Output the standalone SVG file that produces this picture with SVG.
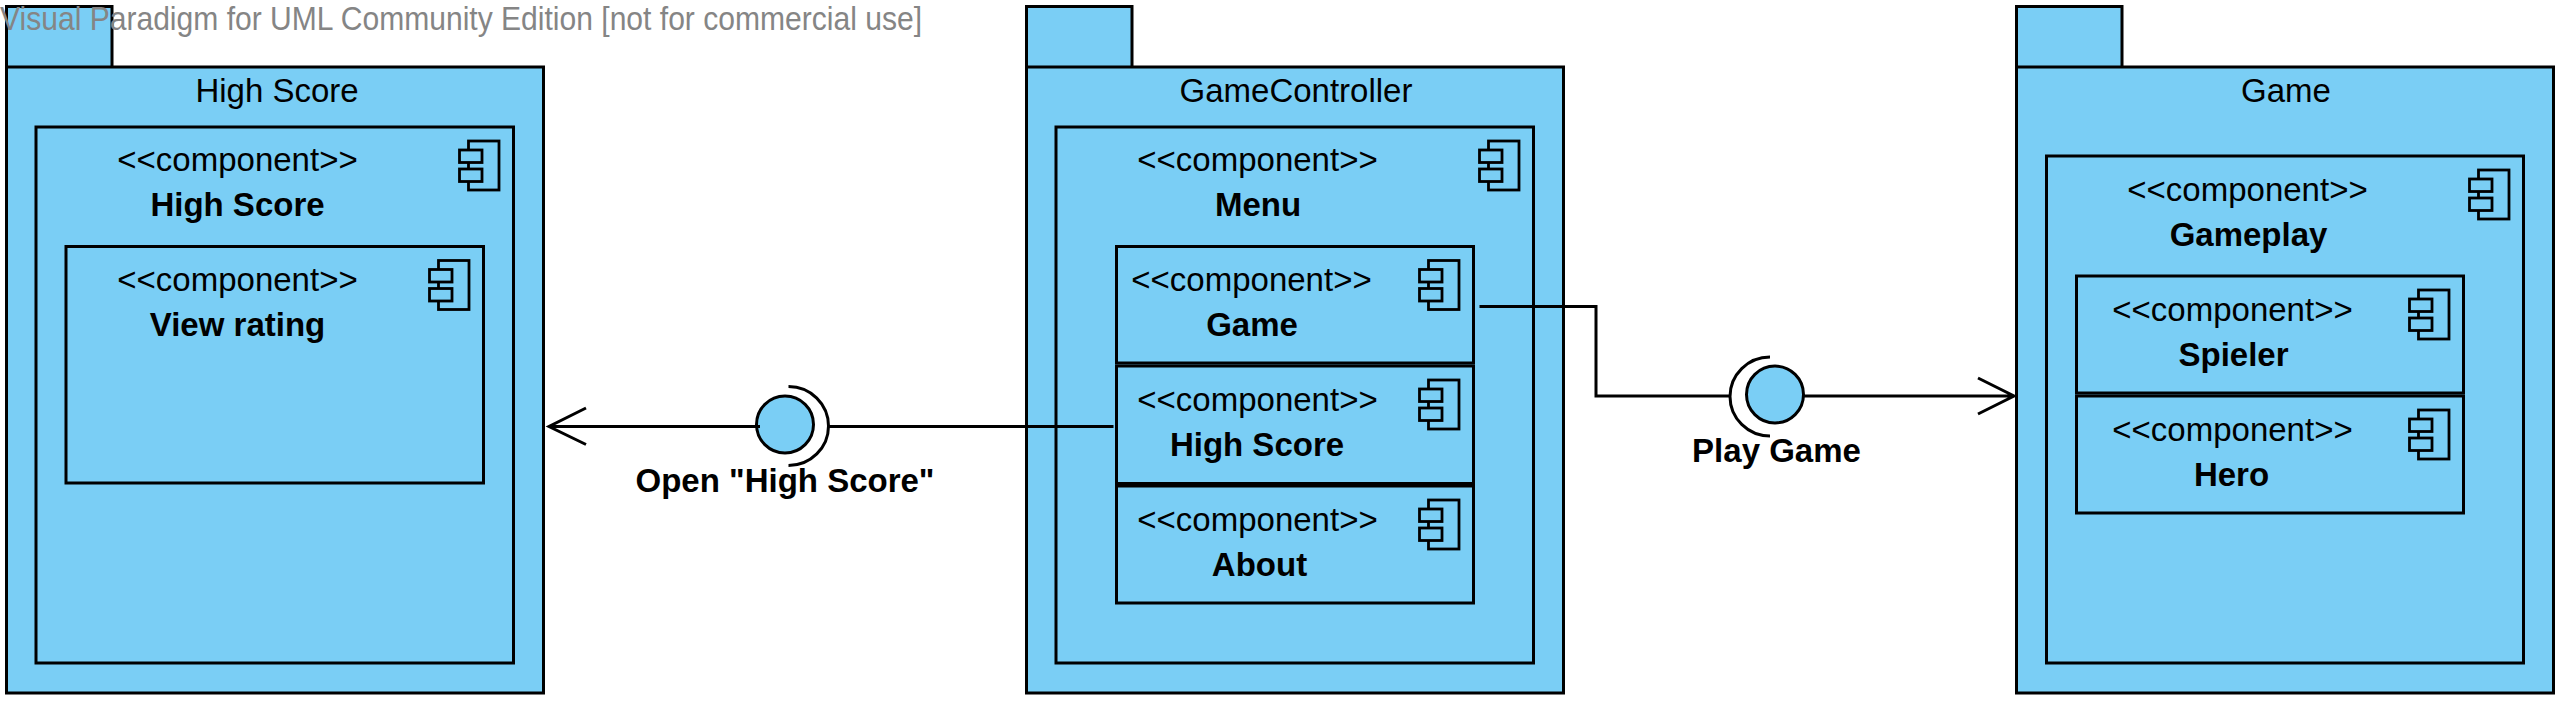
<svg xmlns="http://www.w3.org/2000/svg" width="2568" height="708" viewBox="0 0 2568 708">
<style>
.s{fill:#7ACEF5;stroke:#000;stroke-width:3}
.i{fill:#7ACEF5;stroke:#000;stroke-width:2.8}
.l{fill:none;stroke:#000;stroke-width:3}
text{font-family:"Liberation Sans",Arial,sans-serif;font-size:33px;fill:#000;text-anchor:middle}
.b{font-weight:bold}
.w{fill:#858585;text-anchor:start}
</style>
<defs>
<g id="icon">
<rect class="i" x="-45" y="14" width="30.5" height="49"/>
<rect class="i" x="-54" y="23" width="22.5" height="12.5"/>
<rect class="i" x="-54" y="42" width="22.5" height="12.5"/>
</g>
</defs>
<g id="pkg-highscore">
<rect class="s" x="6.5" y="6.5" width="105.5" height="61"/>
<rect class="s" x="6.5" y="67" width="537" height="626"/>
<text x="277" y="102">High Score</text>
</g>
<g id="comp-highscore">
<rect class="s" x="36" y="127" width="477.5" height="536"/>
<use href="#icon" x="513.5" y="127"/>
<text x="237.5" y="170.5">&lt;&lt;component&gt;&gt;</text>
<text class="b" x="237.5" y="215.5">High Score</text>
</g>
<g id="comp-viewrating">
<rect class="s" x="66" y="246.5" width="417.5" height="236.5"/>
<use href="#icon" x="483.5" y="246.5"/>
<text x="237.5" y="290.5">&lt;&lt;component&gt;&gt;</text>
<text class="b" x="237.5" y="335.5">View rating</text>
</g>
<g id="pkg-gamecontroller">
<rect class="s" x="1026.5" y="6.5" width="105.5" height="61"/>
<rect class="s" x="1026.5" y="67" width="537" height="626"/>
<text x="1296" y="102">GameController</text>
</g>
<g id="comp-menu">
<rect class="s" x="1056" y="127" width="477.5" height="536"/>
<use href="#icon" x="1533.5" y="127"/>
<text x="1257.5" y="170.5">&lt;&lt;component&gt;&gt;</text>
<text class="b" x="1258" y="215.5">Menu</text>
</g>
<g id="comp-game">
<rect class="s" x="1116.5" y="246.5" width="357" height="116.5"/>
<use href="#icon" x="1473.5" y="246.5"/>
<text x="1251.5" y="290.5">&lt;&lt;component&gt;&gt;</text>
<text class="b" x="1252" y="335.5">Game</text>
</g>
<g id="comp-menu-highscore">
<rect class="s" x="1116.5" y="366" width="357" height="117.5"/>
<use href="#icon" x="1473.5" y="366"/>
<text x="1257.5" y="410.5">&lt;&lt;component&gt;&gt;</text>
<text class="b" x="1257" y="455.5">High Score</text>
</g>
<g id="comp-about">
<rect class="s" x="1116.5" y="486" width="357" height="117"/>
<use href="#icon" x="1473.5" y="486"/>
<text x="1257.5" y="530.5">&lt;&lt;component&gt;&gt;</text>
<text class="b" x="1259.5" y="575.5">About</text>
</g>
<g id="pkg-game">
<rect class="s" x="2016.5" y="6.5" width="105.5" height="61"/>
<rect class="s" x="2016.5" y="67" width="537" height="626"/>
<text x="2286" y="102">Game</text>
</g>
<g id="comp-gameplay">
<rect class="s" x="2046.5" y="156" width="477" height="507"/>
<use href="#icon" x="2523.5" y="156"/>
<text x="2247.5" y="200.5">&lt;&lt;component&gt;&gt;</text>
<text class="b" x="2248.5" y="245.5">Gameplay</text>
</g>
<g id="comp-spieler">
<rect class="s" x="2076.5" y="276" width="387" height="117"/>
<use href="#icon" x="2463.5" y="276"/>
<text x="2232.5" y="320.5">&lt;&lt;component&gt;&gt;</text>
<text class="b" x="2233.5" y="365.5">Spieler</text>
</g>
<g id="comp-hero">
<rect class="s" x="2076.5" y="396" width="387" height="117"/>
<use href="#icon" x="2463.5" y="396"/>
<text x="2232.5" y="440.5">&lt;&lt;component&gt;&gt;</text>
<text class="b" x="2231.5" y="486">Hero</text>
</g>
<g id="iface-open">
<circle class="s" cx="785" cy="424.5" r="28.5"/>
<path class="l" d="M788.5 386.5A40 39.5 0 0 1 788.5 465.5"/>
<text class="b" x="785" y="492">Open "High Score"</text>
</g>
<g id="iface-play">
<circle class="s" cx="1775" cy="394.5" r="28.5"/>
<path class="l" d="M1770 357A40 39.5 0 0 0 1770 436"/>
<text class="b" x="1776.5" y="462">Play Game</text>
</g>
<g id="connectors">
<path class="l" d="M1113.5 426.5H828.5"/>
<path class="l" d="M760 426.5H549M586 408L549 426.5L586 444.5"/>
<path class="l" d="M1479.5 306.5H1596V396H1731"/>
<path class="l" d="M1803 396H2014M1978 378L2014 396L1978 414"/>
</g>
<text class="w" x="0" y="30" textLength="922" lengthAdjust="spacingAndGlyphs">Visual Paradigm for UML Community Edition [not for commercial use]</text>
</svg>
